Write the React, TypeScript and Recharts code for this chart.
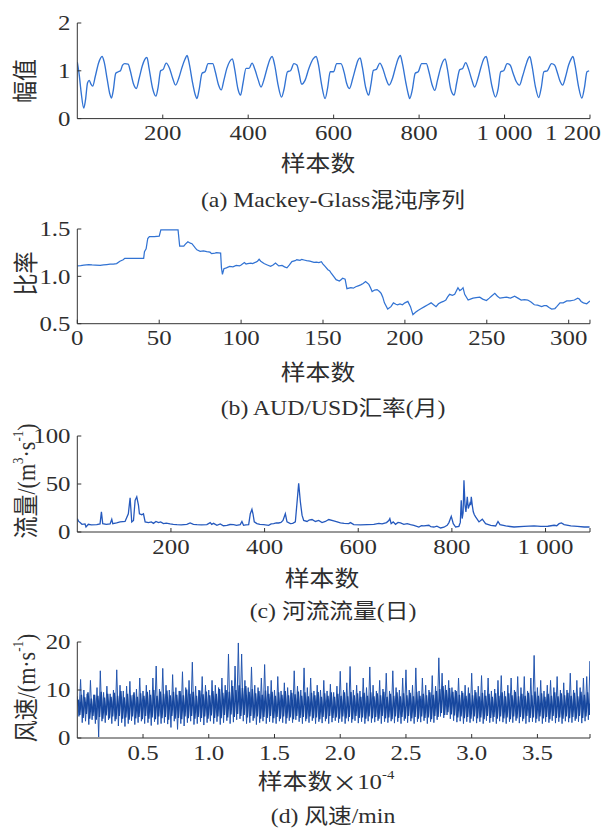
import React from 'react';
import { ComposedChart, Line, XAxis, YAxis } from 'recharts';

// (a) Mackey-Glass series: [sample, amplitude]
const mackeyGlass: [number, number][] = [
  [0, 1.18], [4, 0.95], [9, 0.55], [15, 0.22], [19, 0.38], [24, 0.75], [28, 0.8], [32, 0.72], [36, 0.68],
  [42, 0.88], [50, 1.17], [58, 1.3], [63, 1.18], [70, 0.82], [76, 0.52], [80, 0.43], [84, 0.58], [90, 0.95],
  [96, 0.98], [101, 1.0], [106, 1.12], [111, 1.15], [119, 1.14], [124, 1.0], [131, 0.74], [138, 0.63],
  [145, 0.85], [152, 1.1], [158, 1.24], [163, 1.28], [168, 1.05], [176, 0.64], [184, 0.47], [189, 0.65],
  [195, 1.0], [201, 1.03], [208, 1.16], [216, 1.05], [223, 0.85], [230, 0.7], [238, 0.86], [245, 1.07],
  [252, 1.24], [257, 1.32], [262, 1.15], [270, 0.74], [276, 0.5], [280, 0.42], [285, 0.6], [292, 0.95],
  [299, 0.98], [306, 1.15], [317, 1.15], [323, 0.98], [330, 0.72], [337, 0.6], [343, 0.8], [350, 1.05],
  [357, 1.2], [363, 1.25], [368, 1.05], [376, 0.62], [382, 0.49], [388, 0.75], [395, 1.05], [402, 1.05],
  [409, 1.16], [416, 1.02], [423, 0.82], [430, 0.66], [438, 0.85], [445, 1.08], [451, 1.24], [456, 1.3],
  [462, 1.12], [470, 0.7], [478, 0.45], [484, 0.62], [492, 0.98], [499, 1.0], [507, 1.15], [514, 1.12],
  [519, 0.95], [525, 0.72], [533, 0.8], [542, 1.05], [552, 1.25], [559, 1.3], [564, 1.15], [572, 0.7],
  [580, 0.42], [586, 0.65], [592, 0.98], [600, 0.98], [607, 1.15], [617, 1.15], [625, 0.95], [630, 0.75],
  [637, 0.63], [645, 0.85], [652, 1.08], [657, 1.22], [662, 1.27], [667, 1.08], [675, 0.65], [682, 0.49],
  [687, 0.7], [693, 1.01], [700, 1.03], [708, 1.16], [715, 1.05], [722, 0.85], [730, 0.7], [738, 0.85],
  [745, 1.08], [751, 1.25], [756, 1.32], [761, 1.15], [769, 0.75], [775, 0.5], [778, 0.42], [784, 0.6],
  [791, 0.95], [798, 0.98], [806, 1.15], [817, 1.15], [823, 0.98], [830, 0.72], [837, 0.59], [843, 0.8],
  [850, 1.05], [856, 1.2], [861, 1.25], [866, 1.05], [874, 0.62], [882, 0.49], [888, 0.75], [895, 1.02],
  [902, 1.05], [909, 1.17], [916, 1.03], [923, 0.82], [930, 0.66], [938, 0.85], [945, 1.08], [951, 1.24],
  [957, 1.3], [962, 1.12], [970, 0.7], [979, 0.45], [985, 0.62], [991, 0.98], [998, 1.0], [1006, 1.15],
  [1013, 1.12], [1020, 0.95], [1027, 0.78], [1035, 0.7], [1042, 0.88], [1050, 1.12], [1055, 1.25],
  [1059, 1.3], [1064, 1.12], [1072, 0.68], [1080, 0.44], [1086, 0.65], [1092, 0.98], [1100, 1.0],
  [1110, 1.15], [1117, 1.12], [1124, 0.95], [1130, 0.78], [1136, 0.7], [1143, 0.88], [1150, 1.12],
  [1156, 1.25], [1160, 1.3], [1165, 1.12], [1173, 0.68], [1181, 0.43], [1187, 0.65], [1193, 0.98], [1198, 1.0],
];

// (b) AUD/USD monthly rate: [month, rate]
const audUsd: [number, number][] = [
  [0, 1.11], [2, 1.112], [4, 1.118], [7, 1.125], [9, 1.12], [11, 1.118], [14, 1.115], [16, 1.12], [18, 1.125],
  [20, 1.128], [22, 1.13], [24, 1.135], [26, 1.16], [28, 1.175], [29, 1.19], [33, 1.19], [37, 1.19], [40.5, 1.19],
  [41, 1.26], [42, 1.29], [43, 1.4], [44, 1.42], [47, 1.42], [50, 1.425], [51, 1.49], [55, 1.49], [58, 1.49],
  [61.5, 1.49], [62.5, 1.32], [65, 1.32], [66, 1.34], [67.5, 1.365], [69, 1.35], [70, 1.345], [72, 1.3],
  [73, 1.28], [75, 1.265], [77, 1.27], [79, 1.26], [81, 1.255], [82, 1.24], [84, 1.245], [85, 1.25],
  [87.5, 1.245], [88, 1.09], [88.6, 1.02], [89.5, 1.08], [91, 1.09], [93, 1.105], [95, 1.1], [97, 1.115],
  [99, 1.11], [100, 1.12], [102, 1.145], [103, 1.13], [104, 1.135], [106, 1.14], [107, 1.135], [109, 1.15],
  [110, 1.16], [111, 1.18], [112, 1.16], [114, 1.135], [116, 1.12], [118, 1.105], [119.5, 1.12], [121, 1.14],
  [123, 1.11], [125, 1.115], [126.5, 1.1], [128, 1.09], [129.5, 1.12], [131, 1.155], [133, 1.165],
  [134, 1.175], [136, 1.17], [137, 1.18], [139, 1.17], [140, 1.165], [142, 1.16], [143, 1.155], [144.5, 1.148],
  [146, 1.15], [147.5, 1.145], [149, 1.155], [150, 1.13], [151, 1.11], [153, 1.07], [154, 1.06], [155, 1.035],
  [156.5, 1.0], [158, 0.965], [160, 0.95], [161, 0.965], [162, 0.98], [163.5, 0.97], [164.6, 0.87],
  [167, 0.88], [168.5, 0.875], [170, 0.89], [171.5, 0.9], [173, 0.91], [174.5, 0.925], [176, 0.945],
  [178, 0.915], [179, 0.88], [180, 0.84], [181.5, 0.855], [183, 0.86], [184.5, 0.84], [185.5, 0.82],
  [186.5, 0.78], [187.5, 0.72], [189.5, 0.655], [191.5, 0.68], [193, 0.72], [194.5, 0.705], [195.5, 0.7],
  [197, 0.71], [198.5, 0.7], [200, 0.72], [201.8, 0.735], [203.4, 0.68], [204.9, 0.595], [206.5, 0.62],
  [208, 0.64], [210, 0.66], [212, 0.68], [214, 0.7], [216, 0.72], [217.5, 0.7], [219, 0.68], [220.5, 0.71],
  [222, 0.725], [223.5, 0.735], [225, 0.75], [226, 0.78], [227.3, 0.81], [229, 0.8], [230.4, 0.81],
  [232.4, 0.88], [233.5, 0.85], [234.5, 0.86], [235.5, 0.88], [236.5, 0.81], [238.6, 0.75], [240, 0.76],
  [241.6, 0.77], [243.5, 0.775], [245.7, 0.78], [247.5, 0.76], [249.8, 0.745], [251.5, 0.77], [252.8, 0.79],
  [254.9, 0.82], [256.5, 0.79], [258, 0.77], [260, 0.775], [262, 0.78], [264.5, 0.77], [267, 0.79],
  [269, 0.77], [271, 0.75], [273, 0.755], [275, 0.75], [277, 0.73], [279, 0.7], [281, 0.695], [283.5, 0.68],
  [285, 0.69], [286.5, 0.69], [288, 0.67], [289.6, 0.655], [291.6, 0.66], [292.7, 0.68], [294.7, 0.72],
  [296.7, 0.72], [298.8, 0.74], [300.8, 0.74], [302, 0.745], [303.5, 0.75], [305.5, 0.77], [306.5, 0.76],
  [307.6, 0.735], [309, 0.72], [311, 0.71], [313, 0.74],
];

// (c) daily river flow: [day, m3/s]
const riverFlow: [number, number][] = [
  [0, 14], [3, 11], [6, 9.8], [10, 8], [16.5, 8.4], [18.6, 5.2], [23.6, 8], [30, 7.5], [41.5, 7.7], [48.6, 8.4],
  [51.5, 21], [54.3, 8.7], [62, 8], [70, 8.4], [73.6, 13.3], [75.7, 8.7], [84, 9.5], [91.4, 10.5], [102, 11],
  [109, 19], [112.8, 35.6], [116.3, 10.5], [120, 12], [123.5, 33], [127, 36.7], [130.6, 28], [132.7, 19],
  [137.7, 18], [141.3, 19], [144.9, 10.5], [152, 9.8], [158, 10.5], [162.7, 9], [168, 11], [173.4, 9.8],
  [178, 10.5], [184, 8.7], [190, 9.2], [198.3, 8.4], [205, 8], [212.6, 7.7], [222, 7.5], [234, 8], [241, 9.4],
  [248, 8], [255.4, 7.7], [265, 7.5], [276.7, 7.7], [283.9, 9.8], [287, 8], [291, 9], [298.2, 7], [305.3, 8.4],
  [312, 6.5], [319.5, 7], [326, 7.8], [333.8, 7.7], [340, 7], [348, 7.7], [351.6, 11], [355, 7], [360, 7.5],
  [366, 7.7], [369.5, 19], [373, 23.6], [375.2, 19], [378, 10.5], [383.7, 8.7], [390, 8], [398, 7.7],
  [408.6, 7], [414, 8.5], [419.4, 8.7], [425, 9.5], [430, 9.4], [435, 10], [439.3, 12], [444.3, 19],
  [447.9, 10.5], [455, 8.7], [460, 9], [465.7, 10.5], [469.3, 30.8], [472.8, 50.7], [476.4, 31.5],
  [480, 17.5], [483.5, 12], [490.7, 11], [495, 12.5], [501.3, 13], [508.5, 11], [515.6, 12], [522.7, 9.8],
  [529.9, 11], [537, 13], [547.7, 11.5], [555, 10.5], [562, 9.4], [570, 9], [579.8, 8.7], [583.4, 9.8],
  [590.5, 7.7], [605, 7.5], [619, 7.7], [633.3, 8], [644, 9], [651, 8.4], [660.4, 9.8], [665.3, 12],
  [667.5, 14], [670.3, 8.7], [674.6, 10.5], [679.6, 8], [685, 10], [690.3, 9.4], [697.4, 8], [704.6, 8.7],
  [711.7, 7.7], [718.8, 7], [729.5, 5.2], [735, 6.5], [740.2, 6.3], [750.9, 7], [755, 5.5], [761.6, 5.2],
  [768, 6], [775.9, 4.2], [783, 5], [790, 7], [793.7, 9.8], [798.7, 16.4], [803, 8.7], [808, 5.2], [815, 5.9],
  [818, 10], [820, 33], [822, 14], [824, 20], [825.8, 54], [828, 28], [830, 21], [832.9, 36.7], [835, 24.5],
  [838.6, 30], [840, 28], [841.5, 36.7], [843.5, 28], [845.7, 21], [848, 18], [850.7, 15.7], [857.9, 10.5],
  [865, 13.3], [872, 8.7], [883, 7], [893.5, 6.3], [898.5, 11], [902.8, 7.7], [915, 6.3], [932.7, 5.2],
  [954, 5.9], [975.5, 6.3], [989.8, 5.9], [1005, 6], [1018.3, 7], [1024, 6.5], [1029, 8.7], [1034, 9.4],
  [1039.7, 7.7], [1054, 6.3], [1068, 5.9], [1082.5, 5.2], [1094, 5.2],
];

// (d) wind speed, every 0.025 x10^4 samples:
// outer envelope (spike tops / dips) of the dense trace
const windStep = 0.025;
const windHigh = [
  8.7, 12.2, 10.0, 9.2, 12.0, 9.0, 10.5, 14.0, 9.5, 10.8,
  9.2, 10.0, 14.2, 11.0, 9.8, 10.8, 11.8, 9.0, 10.2, 12.5,
  9.8, 11.0, 10.0, 12.5, 15.0, 10.2, 14.5, 11.0, 10.0, 13.2,
  10.5, 9.8, 13.8, 10.5, 12.0, 15.8, 10.8, 10.0, 12.8, 11.0,
  10.0, 12.0, 11.0, 10.5, 12.5, 11.0, 17.5, 12.0, 15.0, 19.8,
  17.5, 12.0, 10.5, 14.8, 11.0, 10.5, 12.5, 15.3, 10.8, 12.0,
  10.0, 12.8, 9.8, 11.5, 10.5, 10.0, 14.0, 10.8, 10.0, 14.6,
  10.5, 12.5, 9.8, 11.0, 10.0, 12.0, 9.8, 11.2, 9.5, 10.8,
  13.9, 10.0, 11.5, 14.9, 10.0, 11.0, 9.8, 12.5, 10.5, 14.8,
  11.0, 9.8, 12.0, 10.2, 13.5, 9.8, 14.0, 10.5, 10.0, 12.5,
  14.2, 10.0, 11.0, 14.6, 9.8, 12.5, 11.0, 10.0, 13.0, 10.8,
  16.7, 13.5, 11.0, 12.0, 10.5, 10.0, 12.5, 9.8, 11.0, 10.5,
  13.5, 10.0, 10.8, 13.0, 10.0, 12.5, 9.8, 10.2, 12.0, 13.0,
  9.8, 11.0, 12.5, 10.0, 12.8, 10.5, 12.8, 9.8, 12.5, 17.2,
  10.5, 12.0, 9.8, 11.0, 12.0, 10.5, 12.8, 10.0, 11.5, 10.0,
  13.5, 10.0, 12.0, 10.5, 12.5, 12.8, 16.0,
];
const windLow = [
  4.5, 3.2, 3.5, 2.8, 3.8, 3.0, 0.2, 3.5, 3.2, 3.8,
  3.0, 3.5, 2.5, 3.2, 2.4, 3.0, 3.6, 2.8, 3.2, 3.5,
  3.0, 3.2, 2.6, 3.4, 2.8, 3.0, 3.2, 2.9, 2.2, 3.5,
  1.8, 3.0, 2.5, 3.2, 3.5, 2.8, 3.0, 3.4, 2.7, 3.2,
  3.5, 3.0, 3.4, 2.8, 3.2, 3.6, 3.0, 3.3, 3.8, 4.0,
  3.5, 3.0, 3.2, 3.6, 2.8, 3.2, 3.5, 3.0, 3.4, 3.2,
  3.0, 3.5, 3.2, 3.0, 3.6, 3.2, 3.8, 3.4, 3.0, 3.5,
  3.2, 3.6, 3.0, 3.4, 3.1, 3.5, 3.0, 3.3, 3.6, 3.2,
  3.4, 3.0, 3.5, 3.2, 3.6, 3.1, 3.4, 3.0, 3.5, 3.2,
  3.3, 3.6, 3.0, 3.4, 3.2, 3.5, 3.1, 3.4, 3.0, 3.6,
  3.2, 3.5, 3.0, 3.4, 3.3, 3.6, 3.0, 3.4, 3.2, 3.8,
  4.5, 4.2, 4.8, 4.0, 3.6, 3.3, 3.5, 3.0, 3.4, 3.2,
  3.5, 3.1, 3.4, 3.0, 3.6, 3.2, 3.4, 3.0, 3.5, 3.3,
  3.0, 3.4, 3.2, 3.6, 3.1, 3.5, 3.0, 3.3, 3.4, 3.2,
  3.5, 3.0, 3.4, 3.2, 3.6, 3.1, 3.4, 3.0, 3.5, 3.3,
  3.2, 3.6, 3.4, 3.1, 3.5, 3.8, 4.2,
];
// inner envelope of the dark core of the trace
const windMidHigh = [
  8.0, 9.0, 8.5, 9.5, 8.2, 9.0, 8.8, 9.6, 8.4, 9.2,
  8.6, 9.4, 8.8, 9.8, 8.5, 9.2, 8.9, 9.5, 8.6, 9.3,
  8.8, 9.6, 9.0, 10.0, 8.8, 9.7, 9.2, 9.9, 8.9, 9.6,
  9.0, 9.8, 8.9, 10.1, 9.2, 9.6, 8.8, 9.9, 9.1, 9.7,
  8.9, 9.8, 9.2, 10.2, 9.4, 10.0, 9.6, 10.8, 10.0, 11.0,
  10.4, 10.8, 9.6, 10.2, 9.3, 9.8, 9.0, 9.9, 9.2, 9.6,
  8.8, 9.5, 9.0, 9.8, 8.9, 9.4, 9.1, 9.7, 8.8, 9.5,
  8.7, 9.4, 8.9, 9.6, 8.6, 9.3, 8.8, 9.5, 8.6, 9.2,
  8.8, 9.5, 8.7, 9.6, 8.9, 9.3, 8.6, 9.4, 8.8, 9.5,
  8.7, 9.3, 8.9, 9.6, 8.6, 9.2, 8.8, 9.5, 8.7, 9.3,
  8.9, 9.4, 8.7, 9.6, 8.8, 9.2, 8.9, 9.5, 9.0, 9.8,
  10.2, 10.8, 10.0, 10.4, 9.6, 9.8, 9.0, 9.4, 8.8, 9.3,
  8.9, 9.5, 8.7, 9.4, 8.8, 9.2, 8.6, 9.3, 8.8, 9.5,
  8.7, 9.3, 8.9, 9.6, 8.7, 9.2, 8.8, 9.4, 8.9, 9.7,
  8.8, 9.3, 8.6, 9.2, 8.8, 9.5, 8.7, 9.3, 8.9, 9.4,
  8.8, 9.4, 8.7, 9.6, 9.0, 9.5, 9.8,
];
const windMidLow = [
  4.8, 4.2, 5.0, 4.0, 4.6, 3.8, 4.4, 4.0, 4.7, 4.1,
  4.5, 3.9, 4.6, 4.0, 4.3, 3.8, 4.5, 4.1, 4.4, 3.9,
  4.6, 4.0, 4.3, 3.9, 4.5, 4.1, 4.4, 3.8, 4.6, 4.0,
  4.2, 3.9, 4.5, 4.1, 4.6, 4.0, 4.4, 4.2, 4.5, 4.0,
  4.7, 4.2, 4.5, 4.1, 4.8, 4.3, 4.9, 4.4, 5.0, 4.6,
  4.8, 4.3, 4.6, 4.1, 4.5, 4.0, 4.4, 4.2, 4.6, 4.1,
  4.4, 4.0, 4.5, 4.1, 4.3, 3.9, 4.6, 4.2, 4.4, 4.0,
  4.5, 4.1, 4.3, 3.9, 4.4, 4.0, 4.6, 4.2, 4.3, 4.0,
  4.5, 4.1, 4.4, 3.9, 4.6, 4.2, 4.3, 4.0, 4.5, 4.1,
  4.4, 4.0, 4.6, 4.1, 4.3, 3.9, 4.5, 4.2, 4.4, 4.0,
  4.6, 4.1, 4.4, 4.0, 4.5, 4.2, 4.3, 3.9, 4.6, 4.4,
  5.2, 4.8, 5.4, 4.9, 4.7, 4.3, 4.5, 4.1, 4.4, 4.0,
  4.5, 4.1, 4.3, 3.9, 4.6, 4.2, 4.4, 4.0, 4.5, 4.1,
  4.3, 3.9, 4.5, 4.1, 4.4, 4.0, 4.6, 4.2, 4.3, 4.0,
  4.5, 4.1, 4.4, 3.9, 4.6, 4.2, 4.3, 4.0, 4.5, 4.1,
  4.4, 4.0, 4.6, 4.2, 4.5, 4.8, 5.0,
];

const W = 614;
const PLOT_LEFT = 77.3;
const PLOT_RIGHT = 590;
const PAD_TOP = 20;
const SX = 1.13; // the scanned figure is a little wider than its fonts
const SERIF = "'Liberation Serif', 'Noto Sans CJK SC', serif";
const CJK = "'Noto Sans CJK SC', sans-serif";
const TEXT = '#2e2e2e';
const AXIS = '#333';
const TICK_FONT = 22;

const toRows = (pts: [number, number][]) => pts.map(([x, v]) => ({ x, v }));
// each envelope pair becomes a zig-zag: high value, then low value half a step later
const zigzag = (high: number[], low: number[], offset: number) =>
  high.flatMap((h, i) => [
    { x: i * windStep + offset, v: h },
    { x: i * windStep + offset + windStep / 2, v: low[i] },
  ]);
const windOuterRows = zigzag(windHigh, windLow, 0);
const windMidRows = zigzag(windMidHigh, windMidLow, windStep / 4);

const thousands = (v: number) =>
  v >= 1000 ? `${Math.floor(v / 1000)} ${String(v % 1000).padStart(3, '0')}` : String(v);

// ticks are drawn inward; labels sit outside the axis like the reference
const makeTick = (side: 'x' | 'y', fmt: (v: number) => string, flushRight?: number) => (props: any) => {
  const { x, y, payload } = props;
  const label = fmt(payload.value);
  if (!label) return <g />;
  if (side === 'x') {
    const flush = payload.value === flushRight;
    return (
      <text transform={`translate(${flush ? x + 11 : x},${y + 21.5}) scale(${SX},1)`}
        textAnchor={flush ? 'end' : 'middle'} fontFamily={SERIF} fontSize={TICK_FONT} fill={TEXT}>{label}</text>
    );
  }
  return (
    <text transform={`translate(${x - 6.8},${y + 7.4}) scale(${SX},1)`} textAnchor="end"
      fontFamily={SERIF} fontSize={TICK_FONT} fill={TEXT}>{label}</text>
  );
};

interface PanelProps {
  top: number;
  bottom: number;
  xMax: number;
  xTicks: number[];
  xFmt: (v: number) => string;
  flushRight?: number;
  yDomain: [number, number];
  yTicks: number[];
  yFmt: (v: number) => string;
  children: React.ReactNode;
}

const Panel = (p: PanelProps) => {
  const h = p.bottom - p.top + PAD_TOP + 40;
  return (
    <div style={{ position: 'absolute', left: 0, top: p.top - PAD_TOP }}>
      <ComposedChart width={W} height={h}
        margin={{ top: PAD_TOP, right: W - PLOT_RIGHT, bottom: 0, left: 0 }}>
        <XAxis dataKey="x" type="number" domain={[0, p.xMax]} ticks={p.xTicks} interval={0}
          allowDataOverflow height={40} tickSize={-4} tickMargin={4}
          stroke={AXIS} tick={makeTick('x', p.xFmt, p.flushRight)} />
        <YAxis type="number" domain={p.yDomain} ticks={p.yTicks} interval={0}
          allowDataOverflow width={PLOT_LEFT} tickSize={-4} tickMargin={4}
          stroke={AXIS} tick={makeTick('y', p.yFmt)} />
        {p.children}
      </ComposedChart>
    </div>
  );
};

const Caption = ({ x, y, size = 21, children }: { x: number; y: number; size?: number; children: React.ReactNode }) => (
  <text transform={`translate(${x},${y}) scale(${SX},1)`} textAnchor="middle" dominantBaseline="central"
    fontFamily={SERIF} fontSize={size} fill={TEXT}>{children}</text>
);

const YTitle = ({ x, y, children }: { x: number; y: number; children: React.ReactNode }) => (
  <text transform={`translate(${x},${y}) rotate(-90) scale(1,${SX})`} textAnchor="middle"
    dominantBaseline="central" fontFamily={SERIF} fontSize={22} fill={TEXT}>{children}</text>
);

const App = () => (
  <div style={{ position: 'absolute', left: 0, top: 0, width: W, height: 830, background: '#fff' }}>
    <Panel top={22.7} bottom={118.3} xMax={1200} xTicks={[200, 400, 600, 800, 1000, 1200]}
      xFmt={thousands} flushRight={1200}
      yDomain={[0, 2]} yTicks={[0, 1, 2]} yFmt={(v) => String(v)}>
      <Line data={toRows(mackeyGlass)} dataKey="v" type="monotone" stroke="#3273d3" strokeWidth={1.35}
        dot={false} isAnimationActive={false} />
    </Panel>
    <Panel top={229.3} bottom={324} xMax={313} xTicks={[0, 50, 100, 150, 200, 250, 300, 313]}
      xFmt={(v) => (v === 313 ? '' : String(v))}
      yDomain={[0.5, 1.5]} yTicks={[0.5, 1, 1.5]} yFmt={(v) => v.toFixed(1)}>
      <Line data={toRows(audUsd)} dataKey="v" type="linear" stroke="#3273d3" strokeWidth={1.25}
        dot={false} isAnimationActive={false} />
    </Panel>
    <Panel top={435.7} bottom={531.7} xMax={1095} xTicks={[200, 400, 600, 800, 1000, 1095]}
      xFmt={(v) => (v === 1095 ? '' : thousands(v))}
      yDomain={[0, 100]} yTicks={[0, 50, 100]} yFmt={(v) => String(v)}>
      <Line data={toRows(riverFlow)} dataKey="v" type="linear" stroke="#2559bd" strokeWidth={1.3}
        dot={false} isAnimationActive={false} />
    </Panel>
    <Panel top={642.3} bottom={738.3} xMax={3.9} xTicks={[0.5, 1, 1.5, 2, 2.5, 3, 3.5, 3.9]}
      xFmt={(v) => (v === 3.9 ? '' : v.toFixed(1))}
      yDomain={[0, 20]} yTicks={[0, 10, 20]} yFmt={(v) => String(v)}>
      <Line data={windOuterRows} dataKey="v" type="linear" stroke="#2355ae" strokeWidth={1}
        dot={false} isAnimationActive={false} />
      <Line data={windMidRows} dataKey="v" type="linear" stroke="#17479e" strokeWidth={1.5}
        dot={false} isAnimationActive={false} />
    </Panel>

    <svg width={W} height={830} style={{ position: 'absolute', left: 0, top: 0, pointerEvents: 'none' }}>
      <YTitle x={26} y={81}>幅值</YTitle>
      <YTitle x={26.5} y={273.5}>比率</YTitle>
      <YTitle x={27} y={481}>
        流量/(m<tspan dy={-8} fontSize={13}>3</tspan><tspan dy={8}>·s</tspan>
        <tspan dy={-8} fontSize={13}>-1</tspan><tspan dy={8}>)</tspan>
      </YTitle>
      <YTitle x={27} y={688}>
        风速/(m·s<tspan dy={-8} fontSize={13}>-1</tspan><tspan dy={8}>)</tspan>
      </YTitle>

      <Caption x={318} y={164} size={22}>样本数</Caption>
      <Caption x={318} y={372.5} size={22}>样本数</Caption>
      <Caption x={322} y={579} size={22}>样本数</Caption>
      <Caption x={326} y={782} size={22}>
        样本数<tspan fontFamily={CJK}>×</tspan>10<tspan dy={-8} fontSize={13}>-4</tspan>
      </Caption>

      <Caption x={333} y={200}>(a) Mackey-Glass混沌序列</Caption>
      <Caption x={333} y={408}>(b) AUD/USD汇率(月)</Caption>
      <Caption x={333} y={611}>(c) 河流流量(日)</Caption>
      <Caption x={333} y={816}>(d) 风速/min</Caption>
    </svg>
  </div>
);

export default App;
